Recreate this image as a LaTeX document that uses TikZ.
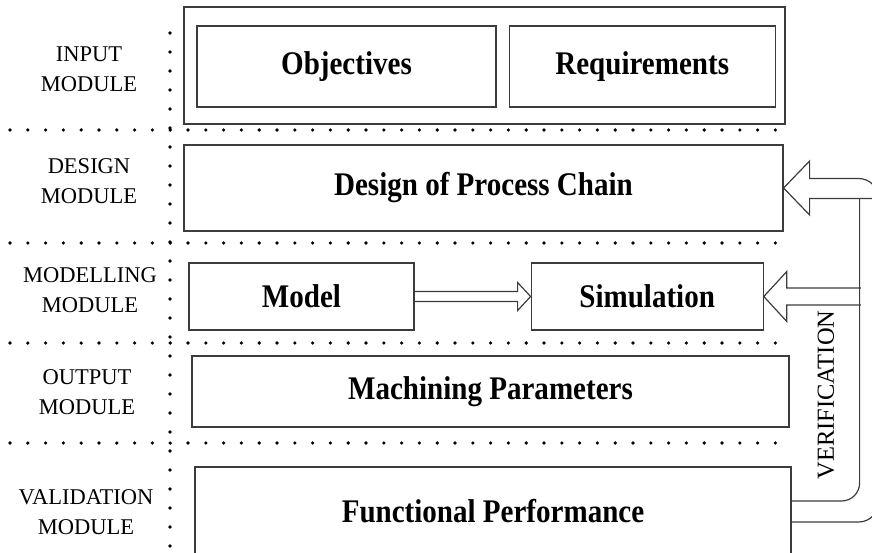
\documentclass[tikz,border=0pt]{standalone}
\usepackage{fontspec}
\setmainfont{Liberation Serif}
\newfontfamily\blockfont[FakeStretch=0.88]{Liberation Serif}
\usetikzlibrary{positioning}
\definecolor{framegray}{RGB}{60, 60, 60}

\begin{document}
\begin{tikzpicture}[
    x=1pt, y=-1pt,
    box/.style={rectangle, draw=framegray, line width=1.2pt, inner sep=0pt, font=\blockfont\fontsize{33}{38}\selectfont\bfseries, text centered},
    modlabel/.style={align=center, font=\fontsize{22.5}{30}\selectfont},
    dotline/.style={line width=3.6pt, line cap=round, dash pattern=on 0pt off 17.8pt},
    hollow/.style={draw=framegray, line width=1.2pt, line join=miter}
]
\useasboundingbox (0,0) rectangle (872,553);
\clip (0,0) rectangle (872,553);

% module separators
\foreach \y in {130,243,343,443}
    \draw[dotline] (10,\y) -- (779,\y);
\draw[dotline, dash pattern=on 0pt off 19pt] (170,33) -- (170,553);

% module names
\node[modlabel] (lin) at (89,69) {INPUT\\MODULE};
\node[modlabel] (ldes) at (89,181.5) {DESIGN\\MODULE};
\node[modlabel] (lmod) at (90,290) {MODELLING\\MODULE};
\node[modlabel] (lout) at (87,392) {OUTPUT\\MODULE};
\node[modlabel] (lval) at (86,512) {VALIDATION\\MODULE};

% blocks
\node[box, minimum width=601pt, minimum height=117pt] (inp) at (484.5,65.5) {};
\node[box, minimum width=299pt, minimum height=81pt] (obj) at (346.5,66.5) {Objectives};
\node[box, minimum width=266pt, minimum height=81pt, right=12pt of obj] (req) {Requirements};
\node[box, minimum width=599pt, minimum height=86pt] (design) at (483.5,188) {Design of Process Chain};
\node[box, minimum width=225pt, minimum height=67pt] (model) at (301.5,296.5) {Model};
\node[box, minimum width=232pt, minimum height=67pt, right=116pt of model] (sim) {Simulation};
\node[box, minimum width=597pt, minimum height=71pt] (mach) at (490.5,391.5) {Machining Parameters};
\node[box, minimum width=596pt, minimum height=89pt] (func) at (493,511.5) {Functional Performance};

\node[rotate=90, font=\fontsize{24.5}{28}\selectfont] (verif) at (826,395) {VERIFICATION};

\coordinate (vin) at ([xshift=76pt,yshift=-10.5pt]design.east);
\coordinate (vout) at ([xshift=95pt,yshift=9.5pt]design.east);
\coordinate (vedge) at ([xshift=110pt,yshift=-10.5pt]design.east);

% model to simulation
\draw[hollow] ([yshift=5pt]model.east) -- ([xshift=-13pt,yshift=5pt]sim.west)
    -- ([xshift=-13pt,yshift=14pt]sim.west) -- (sim.west)
    -- ([xshift=-13pt,yshift=-14pt]sim.west) -- ([xshift=-13pt,yshift=-5pt]sim.west)
    -- ([yshift=-5pt]model.east);

% verification loop back to design
\draw[hollow] ([yshift=-10.5pt]func.east) [rounded corners=20pt] -| (vout) [sharp corners]
    -- ([xshift=26pt,yshift=9.5pt]design.east) -- ([xshift=26pt,yshift=27pt]design.east)
    -- (design.east) -- ([xshift=26pt,yshift=-27pt]design.east)
    -- ([xshift=26pt,yshift=-10.5pt]design.east) -- (vedge);
\draw[hollow, rounded corners=18pt] ([yshift=10.5pt]func.east) -| (vin);

% verification back to simulation
\draw[hollow] ([xshift=97pt,yshift=8.5pt]sim.east) -- ([xshift=23pt,yshift=8.5pt]sim.east)
    -- ([xshift=23pt,yshift=25pt]sim.east) -- (sim.east)
    -- ([xshift=23pt,yshift=-25pt]sim.east) -- ([xshift=23pt,yshift=-8.5pt]sim.east)
    -- ([xshift=97pt,yshift=-8.5pt]sim.east);
\end{tikzpicture}
\end{document}
